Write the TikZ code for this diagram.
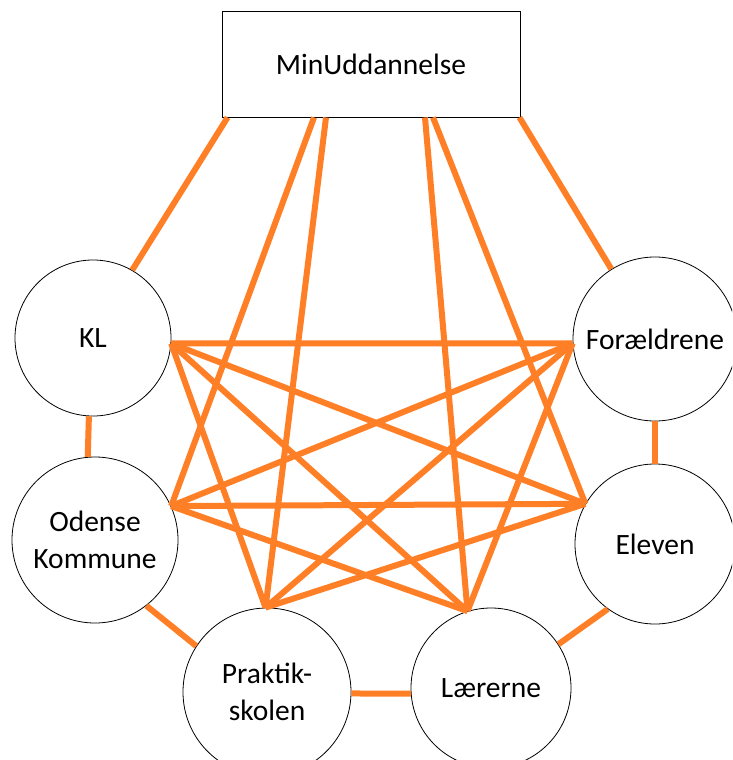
\documentclass[tikz,border=0pt]{standalone}
\usepackage{fontspec}
\setmainfont{Carlito}
\definecolor{edgeor}{RGB}{255,127,39}
\begin{document}
\begin{tikzpicture}[x=1pt,y=-1pt,
  ent/.style={circle,draw=black,line width=0.8pt,inner sep=0pt,align=center,font=\fontsize{29.5}{37}\selectfont},
  box/.style={rectangle,draw=black,line width=0.9pt,minimum width=298pt,minimum height=106pt,inner sep=0pt,font=\fontsize{29.5}{37}\selectfont},
  link/.style={draw=edgeor,line width=6pt}]
\useasboundingbox (0,0) rectangle (732,760);
\fill[white] (0,0) rectangle (732,760);
\clip (0,0) rectangle (732,760);
\node[box] (mu) at (371,64) {MinUddannelse};
\node[ent,minimum size=156pt] (kl) at (93,338) {KL};
\node[ent,minimum size=164pt] (fo) at (655,339) {Forældrene};
\node[ent,minimum size=166pt] (od) at (95,540) {Odense\\Kommune};
\node[ent,minimum size=160pt] (el) at (655,544) {Eleven};
\node[ent,minimum size=168pt] (pr) at (267,692) {Praktik-\\skolen};
\node[ent,minimum size=160pt] (la) at (491,688) {Lærerne};
% from MinUddannelse
\draw[link] ([xshift=6pt]mu.south west) -- (kl.60);
\draw[link] ([xshift=-57pt]mu.south) -- (od.24);
\draw[link] ([xshift=-45pt]mu.south) -- (pr.91);
\draw[link] ([xshift=54pt]mu.south) -- (la.107);
\draw[link] ([xshift=62pt]mu.south) -- (el.150);
\draw[link] ([xshift=-1pt]mu.south east) -- (fo.122);
% cross links
\foreach \a/\b in {kl.356/fo.183, kl.356/el.150, kl.356/la.107, kl.356/pr.91,
                   od.24/fo.183, od.24/el.150, od.24/la.107,
                   pr.91/fo.183, pr.91/el.150, la.107/fo.183}
  \draw[link] (\a) -- (\b);
% neighbour links
\draw[link] (kl.267) -- (od.95);
\draw[link] (fo.270) -- (el.90);
\draw[link] (od.-52) -- (pr.147);
\draw[link] (pr.-1) -- (la.184);
\draw[link] (la.33) -- (el.234);
\end{tikzpicture}
\end{document}
